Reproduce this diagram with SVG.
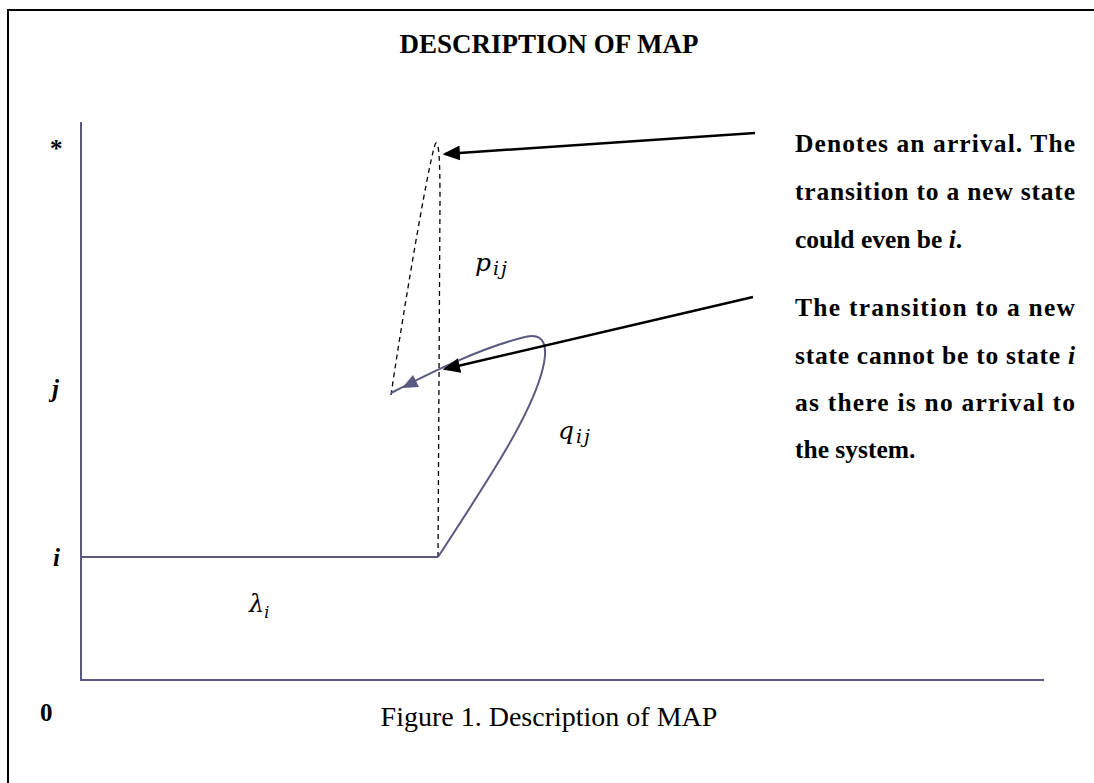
<svg xmlns="http://www.w3.org/2000/svg" width="1094" height="783" viewBox="0 0 1094 783">
<style>
.bt{font-family:"Liberation Serif","Times New Roman",serif;font-weight:bold;fill:#000}
.cap{font-family:"Liberation Serif","Times New Roman",serif;fill:#000}
.m{font-family:"DejaVu Serif","Liberation Serif",serif;font-style:italic;fill:#000}
.ax{stroke:#5a5a80;stroke-width:2;fill:none}
.dash{stroke:#000;stroke-width:1.3;stroke-dasharray:5,4;fill:none}
.blk{stroke:#000;stroke-width:2.5;fill:none}
</style>
<defs>
<marker id="ah" markerWidth="7" markerHeight="6" refX="6" refY="3" orient="auto" markerUnits="strokeWidth">
<path d="M0,0 L7,3 L0,6 z" fill="#000"/>
</marker>
</defs>
<rect width="1094" height="783" fill="#fff"/>
<path d="M8,783 L8,10 L1094,10" stroke="#000" stroke-width="2" fill="none"/>
<g id="title"><text class="bt" x="549" y="53" font-size="27" text-anchor="middle">DESCRIPTION OF MAP</text></g>
<g id="axes">
<line class="ax" x1="81" y1="122" x2="81" y2="681"/>
<line class="ax" x1="81" y1="680" x2="1044" y2="680"/>
</g>
<g id="labels">
<text class="bt" x="50" y="157" font-size="25">*</text>
<text class="bt" x="52" y="397" font-size="25" font-style="italic">j</text>
<text class="bt" x="53" y="566" font-size="25" font-style="italic">i</text>
<text class="bt" x="40" y="721" font-size="25">0</text>
</g>
<g id="state-i"><line class="ax" x1="81" y1="557" x2="438" y2="557"/></g>
<g id="pij-path"><path class="dash" d="M438,557 L440,200 C440,160 439,143 436,143 C432,143 405,300 391,395"/></g>
<g id="qij-path">
<path class="ax" d="M438,557 C485,485 528,420 541,375 C550,345 544,332 525,337 C480,348 430,373 391,393"/>
<polygon points="402,388 413,375 419,387" fill="#5a5a80"/>
</g>
<g id="math">
<text class="m" x="475" y="271" font-size="25">p<tspan font-size="19" dx="2" dy="4">i</tspan><tspan font-size="19" dx="2">j</tspan></text>
<text class="m" x="558" y="439" font-size="25">q<tspan font-size="19" dx="2" dy="4">i</tspan><tspan font-size="19" dx="2">j</tspan></text>
<text class="m" x="249" y="612" font-size="24">λ<tspan font-size="16" dy="6">i</tspan></text>
</g>
<g id="connectors">
<line class="blk" x1="755" y1="133" x2="445" y2="154" marker-end="url(#ah)"/>
<line class="blk" x1="753" y1="297" x2="445" y2="369" marker-end="url(#ah)"/>
</g>
<g id="note1">
<text class="bt" font-size="25.5"><tspan x="795" y="152" textLength="280" lengthAdjust="spacing">Denotes an arrival. The</tspan><tspan x="795" y="200" textLength="280" lengthAdjust="spacing">transition to a new state</tspan><tspan x="795" y="248">could even be <tspan font-style="italic">i</tspan>.</tspan></text>
</g>
<g id="note2">
<text class="bt" font-size="25.5"><tspan x="795" y="316" textLength="280" lengthAdjust="spacing">The transition to a new</tspan><tspan x="795" y="364" textLength="280" lengthAdjust="spacing">state cannot be to state <tspan font-style="italic">i</tspan></tspan><tspan x="795" y="411" textLength="280" lengthAdjust="spacing">as there is no arrival to</tspan><tspan x="795" y="458">the system.</tspan></text>
</g>
<g id="caption"><text class="cap" x="549" y="726" font-size="28" text-anchor="middle">Figure 1. Description of MAP</text></g>
</svg>
